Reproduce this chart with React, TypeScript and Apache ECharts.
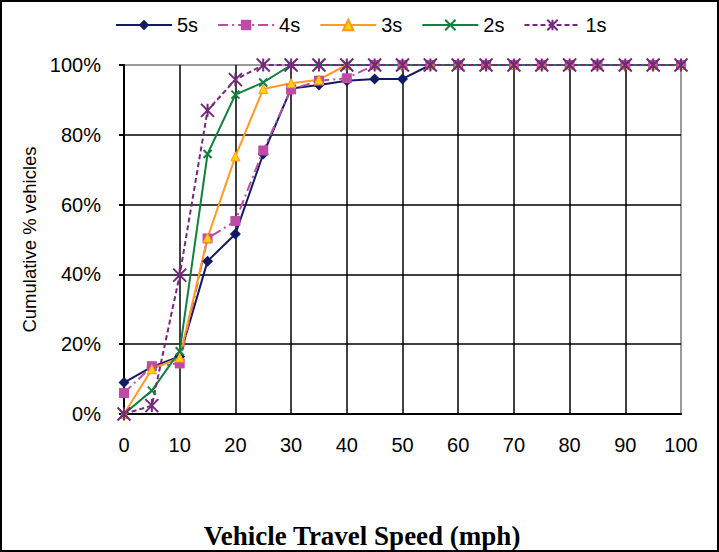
import React, { useEffect, useRef } from "react";
import * as echarts from "echarts";

const speeds = [0, 5, 10, 15, 20, 25, 30, 35, 40, 45, 50, 55, 60, 65, 70, 75, 80, 85, 90, 95, 100];
const pct5s = [9, 13.5, 16.5, 43.8, 51.6, 74.5, 93.3, 94.3, 95.5, 96, 96, 100, 100, 100, 100, 100, 100, 100, 100, 100, 100];
const pct4s = [6, 13.7, 14.5, 50.3, 55.3, 75.5, 93, 95.5, 96.2, 100, 100, 100, 100, 100, 100, 100, 100, 100, 100, 100, 100];
const pct3s = [0, 12.8, 16.2, 50.5, 73.8, 93.1, 94.8, 95.8, 100, 100, 100, 100, 100, 100, 100, 100, 100, 100, 100, 100, 100];
const pct2s = [0, 6.7, 18, 74.5, 91.5, 95, 100, 100, 100, 100, 100, 100, 100, 100, 100, 100, 100, 100, 100, 100, 100];
const pct1s = [0, 2.4, 39.8, 87, 95.8, 100, 100, 100, 100, 100, 100, 100, 100, 100, 100, 100, 100, 100, 100, 100, 100];
const seriesNames = ["5s", "4s", "3s", "2s", "1s"];
const xTicks = { min: 0, max: 100, interval: 10 };
const yTicks = { min: 0, max: 100, interval: 20 };
const xTitle = "Vehicle Travel Speed (mph)";
const yTitle = "Cumulative % vehicles";

const FONT = "'Liberation Sans', Arial, sans-serif";
const pairs = (ys: number[]) => speeds.map((x, i) => [x, ys[i]]);

export default function App() {
  const ref = useRef<HTMLDivElement>(null);
  useEffect(() => {
    if (!ref.current) return;
    const chart = echarts.init(ref.current, null, { renderer: "svg" });
    const navy = "#121A63";
    const magenta = "#BE4BA6";
    const orange = "#FF9A22";
    const green = "#138040";
    const purple = "#74297C";
    chart.setOption({
      animation: false,
      backgroundColor: "#fff",
      legend: {
        data: seriesNames,
        left: 110,
        top: 10,
        itemWidth: 56,
        itemHeight: 13,
        itemGap: 19,
        textStyle: { fontSize: 20, color: "#000", fontFamily: FONT },
      },
      grid: {
        left: 124,
        top: 65,
        right: 38,
        bottom: 138,
        show: true,
        borderColor: "#9a9a9a",
        borderWidth: 2,
        backgroundColor: "transparent",
      },
      xAxis: {
        type: "value",
        ...xTicks,
        axisLine: { show: true, lineStyle: { color: "#000", width: 2 } },
        axisTick: { show: false },
        axisLabel: { fontSize: 20, color: "#000", fontFamily: FONT, margin: 21 },
        splitLine: { show: true, showMaxLine: false, lineStyle: { color: "#000", width: 1.5 } },
      },
      yAxis: {
        type: "value",
        ...yTicks,
        name: yTitle,
        nameLocation: "middle",
        nameGap: 78,
        nameTextStyle: { fontFamily: FONT, fontSize: 18.5, color: "#000" },
        axisLine: { show: true, lineStyle: { color: "#000", width: 2 } },
        axisTick: { show: true, length: 5, lineStyle: { color: "#000", width: 2 } },
        axisLabel: { fontSize: 20, color: "#000", fontFamily: FONT, margin: 23, formatter: "{value}%" },
        splitLine: { show: true, showMaxLine: false, lineStyle: { color: "#000", width: 1.5 } },
      },
      series: [
        {
          name: "5s",
          type: "line",
          data: pairs(pct5s),
          color: navy,
          symbol: "diamond",
          symbolSize: 11,
          lineStyle: { color: navy, width: 2 },
          itemStyle: { color: navy },
        },
        {
          name: "4s",
          type: "line",
          data: pairs(pct4s),
          color: magenta,
          symbol: "rect",
          symbolSize: 10,
          lineStyle: { color: magenta, width: 2, type: [10, 4, 2, 4] },
          itemStyle: { color: magenta },
        },
        {
          name: "3s",
          type: "line",
          data: pairs(pct3s),
          color: orange,
          symbol: "triangle",
          symbolSize: 9,
          lineStyle: { color: orange, width: 2 },
          itemStyle: { color: "#FFD200", borderColor: orange, borderWidth: 1 },
        },
        {
          name: "2s",
          type: "line",
          data: pairs(pct2s),
          color: green,
          symbol: "path://M0,0L10,10M10,0L0,10",
          symbolSize: 8,
          lineStyle: { color: green, width: 2 },
          itemStyle: { color: green, borderColor: green, borderWidth: 2 },
        },
        {
          name: "1s",
          type: "line",
          data: pairs(pct1s),
          color: purple,
          symbol: "path://M0,0L10,10M10,0L0,10M5,0L5,10",
          symbolSize: 13,
          lineStyle: { color: purple, width: 2, type: [5, 3] },
          itemStyle: { color: purple, borderColor: purple, borderWidth: 2 },
        },
      ],
      graphic: [
        {
          type: "rect",
          shape: { x: 1, y: 1, width: 717, height: 550 },
          style: { fill: "none", stroke: "#000", lineWidth: 2 },
          silent: true,
        },
        {
          type: "text",
          x: 362,
          y: 536,
          style: {
            text: xTitle,
            fontFamily: "'Liberation Serif', 'Times New Roman', serif",
            fontWeight: "bold",
            fontSize: 27,
            fill: "#000",
            align: "center",
            verticalAlign: "middle",
          },
          silent: true,
        },
      ],
    });
    return () => chart.dispose();
  }, []);
  return (
    <div
      ref={ref}
      style={{ position: "fixed", left: 0, top: 0, width: 719, height: 552 }}
    />
  );
}
